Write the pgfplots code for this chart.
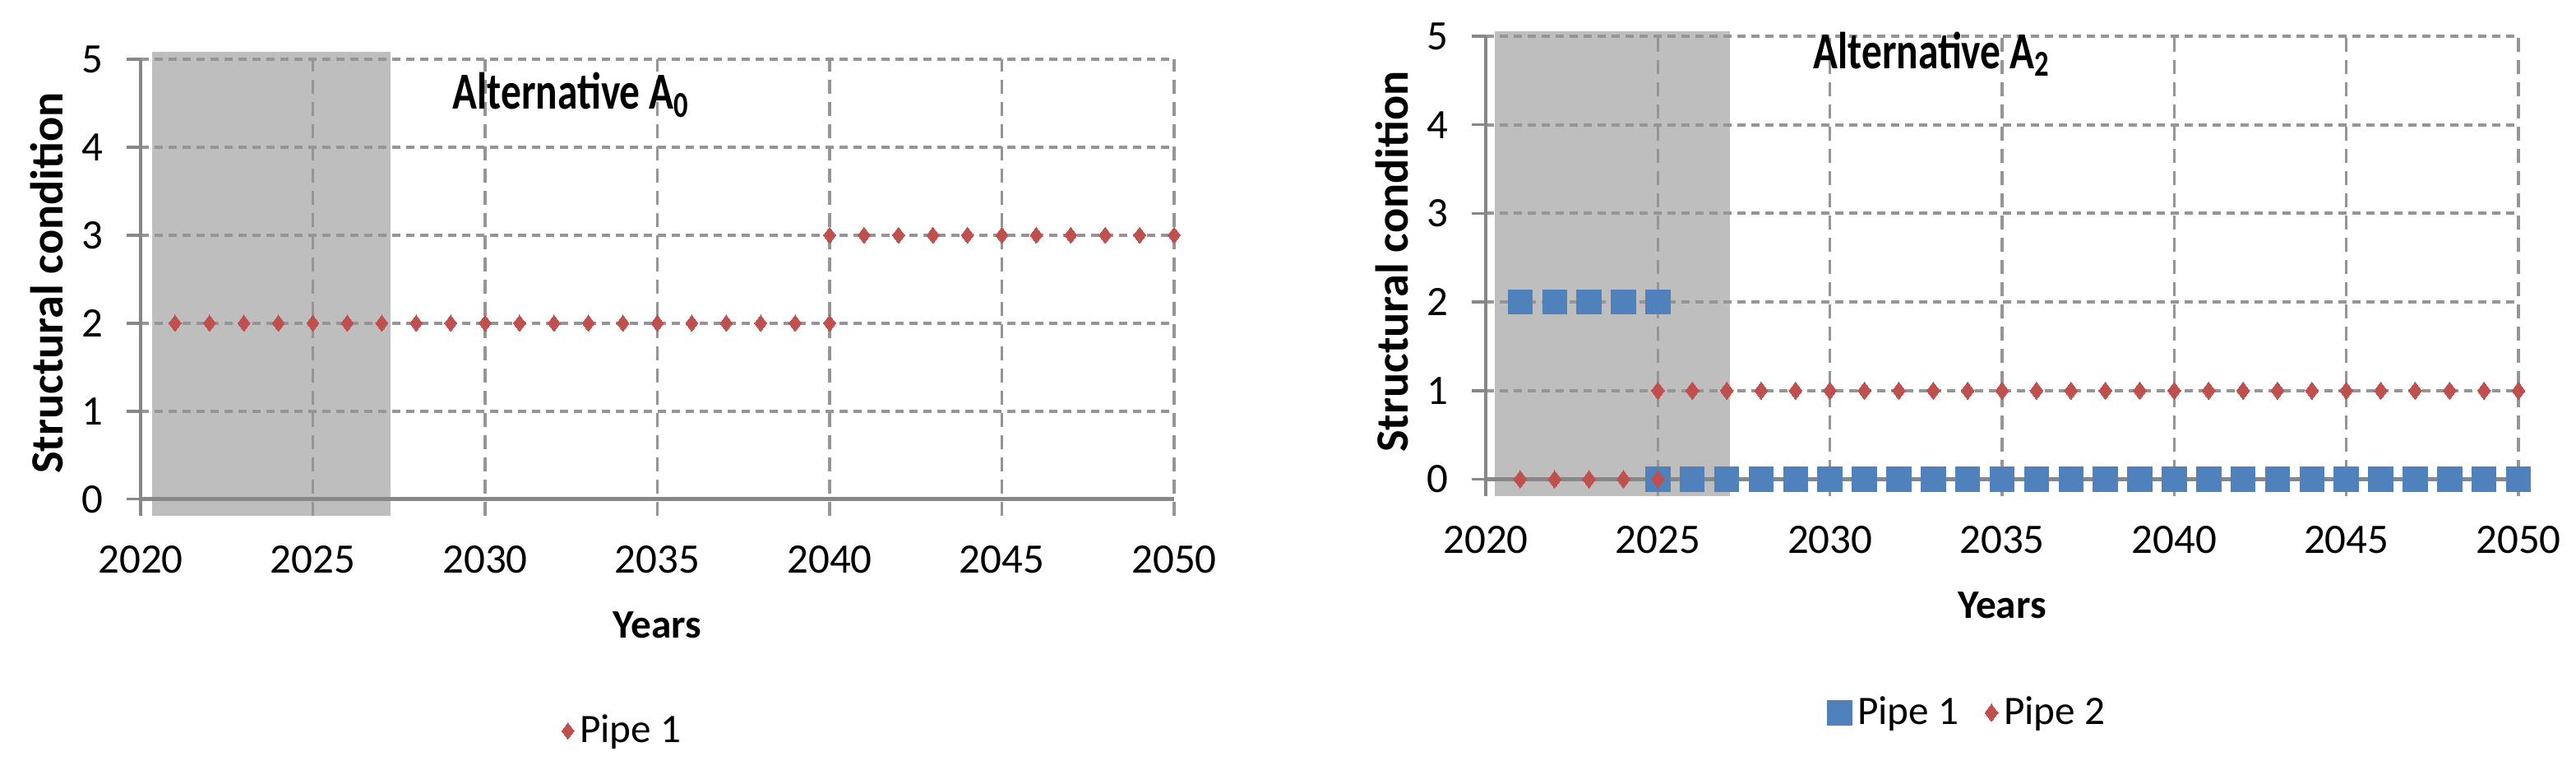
\documentclass[border=0pt]{standalone}
\usepackage{fontspec}
\setmainfont{Carlito}
\usepackage{graphicx}
\usepackage{pgfplots}
\pgfplotsset{compat=1.18}
\definecolor{pipeblue}{HTML}{4F81BD}
\definecolor{pipered}{HTML}{C0504D}
\definecolor{shade}{HTML}{BEBEBE}
\definecolor{gridgray}{HTML}{959595}
\definecolor{axisgray}{HTML}{878787}

% structural condition per year
\pgfplotstableread{
year cond
2021 2
2022 2
2023 2
2024 2
2025 2
2026 2
2027 2
2028 2
2029 2
2030 2
2031 2
2032 2
2033 2
2034 2
2035 2
2036 2
2037 2
2038 2
2039 2
2040 2
2040 3
2041 3
2042 3
2043 3
2044 3
2045 3
2046 3
2047 3
2048 3
2049 3
2050 3
}\altzero

\pgfplotstableread{
year cond
2021 2
2022 2
2023 2
2024 2
2025 2
2025 0
2026 0
2027 0
2028 0
2029 0
2030 0
2031 0
2032 0
2033 0
2034 0
2035 0
2036 0
2037 0
2038 0
2039 0
2040 0
2041 0
2042 0
2043 0
2044 0
2045 0
2046 0
2047 0
2048 0
2049 0
2050 0
}\alttwoA

\pgfplotstableread{
year cond
2021 0
2022 0
2023 0
2024 0
2025 0
2025 1
2026 1
2027 1
2028 1
2029 1
2030 1
2031 1
2032 1
2033 1
2034 1
2035 1
2036 1
2037 1
2038 1
2039 1
2040 1
2041 1
2042 1
2043 1
2044 1
2045 1
2046 1
2047 1
2048 1
2049 1
2050 1
}\alttwoB

\pgfplotsset{
  conditionaxis/.style={
    set layers, scale only axis, clip=false,
    xmin=2020, xmax=2050, ymin=-0.19, ymax=5,
    xtick={2020,2025,...,2050}, ytick={0,1,2,3,4,5},
    axis line style={draw=none},
    ytick pos=left, tick align=outside, major tick length=0.17cm,
    xtick style={draw=none},
    ytick style={axisgray, line width=1pt},
    grid=major,
    major x grid style={gridgray, line width=1pt, dash pattern=on 0.17cm off 0.1cm},
    major y grid style={gridgray, line width=1.1pt, dash pattern=on 0.1cm off 0.07cm},
    /pgf/number format/assume math mode=true,
    tick label style={font=\fontsize{14.5}{17}\selectfont},
    xticklabel style={anchor=center, yshift=-0.36cm, /pgf/number format/1000 sep={}},
    yticklabel style={anchor=center, xshift=-0.42cm},
    xlabel={Years},
    xlabel style={at={(axis description cs:0.5,0)}, anchor=center, yshift=-1.33cm,
      font=\fontsize{14}{17}\selectfont\bfseries},
    ylabel={Structural condition},
    ylabel style={at={(axis description cs:-0.0907,0.51)}, anchor=center,
      font=\fontsize{16}{19}\selectfont\bfseries},
    legend style={at={(axis description cs:0.468,-0.471)}, anchor=center,
      draw=none, fill=none, legend columns=-1,
      font=\fontsize{14}{17}\selectfont,
      /tikz/every even column/.append style={column sep=0.25cm}},
  },
}

\begin{document}
\begin{tikzpicture}
% ---- Alternative A0
\begin{axis}[conditionaxis, at={(1.71cm,3.14cm)}, anchor=south west,
  width=12.57cm, height=5.55cm]
\addplot[draw=none, fill=shade, on layer=axis background, forget plot]
  coordinates {(2020.33,-0.19) (2020.33,5.08) (2027.26,5.08) (2027.26,-0.19)} -- cycle;
\addplot[axisgray, line width=1.5pt, forget plot] coordinates {(2020,0) (2050,0)};
\addplot[axisgray, line width=0.9pt, forget plot] coordinates {(2020,-0.19) (2020,5)};
\addplot[only marks, mark=diamond*, mark size=2.8pt, color=pipered,
  mark options={line width=0pt}] table[x=year, y=cond] {\altzero};
\addlegendentry{Pipe 1}
\node[anchor=base, font=\fontsize{18}{20}\selectfont\bfseries]
  at (axis cs:2032.5,4.43) {\scalebox{0.78}[1]{Alternative A\textsubscript{0}}};
\end{axis}

% ---- Alternative A2
\begin{axis}[conditionaxis, at={(18.07cm,3.38cm)}, anchor=south west,
  width=12.56cm, height=5.59cm]
\addplot[draw=none, fill=shade, on layer=axis background, forget plot]
  coordinates {(2020.26,-0.19) (2020.26,5.06) (2027.1,5.06) (2027.1,-0.19)} -- cycle;
\addplot[axisgray, line width=1.5pt, forget plot] coordinates {(2020,0) (2050,0)};
\addplot[axisgray, line width=0.9pt, forget plot] coordinates {(2020,-0.19) (2020,5)};
\addplot[only marks, mark=square*, mark size=4.2pt, color=pipeblue,
  mark options={line width=0pt}] table[x=year, y=cond] {\alttwoA};
\addlegendentry{Pipe 1}
\addplot[only marks, mark=diamond*, mark size=3pt, color=pipered,
  mark options={line width=0pt}] table[x=year, y=cond] {\alttwoB};
\addlegendentry{Pipe 2}
\node[anchor=base, font=\fontsize{18}{20}\selectfont\bfseries]
  at (axis cs:2032.96,4.63) {\scalebox{0.78}[1]{Alternative A\textsubscript{2}}};
\end{axis}

\pgfresetboundingbox
\path (0,0) rectangle (31.33,9.41);
\end{tikzpicture}
\end{document}
